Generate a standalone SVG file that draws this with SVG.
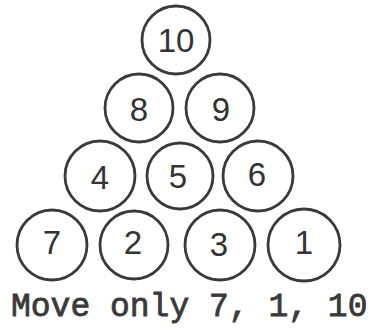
<svg xmlns="http://www.w3.org/2000/svg" width="370" height="329" viewBox="0 0 370 329">
<style>
.b{fill:none;stroke:#3a3a3a;stroke-width:2.8}
.d{font-family:"Liberation Sans",Arial,sans-serif;font-size:33px;fill:#333;text-anchor:middle}
.t{font-family:"Liberation Mono","Courier New",monospace;font-size:33px;fill:#3a3a3a;stroke:#3a3a3a;stroke-width:0.8}
</style>
<rect width="370" height="329" fill="#fff"/>
<g id="n10"><circle class="b" cx="176" cy="40" r="34"/><text class="d" x="176" y="52">10</text></g>
<g id="n8"><circle class="b" cx="139" cy="108" r="34"/><text class="d" x="139" y="121">8</text></g>
<g id="n9"><circle class="b" cx="220" cy="108" r="34"/><text class="d" x="221" y="121">9</text></g>
<g id="n4"><circle class="b" cx="100" cy="176" r="35"/><text class="d" x="100" y="189">4</text></g>
<g id="n5"><circle class="b" cx="180" cy="176" r="33"/><text class="d" x="178" y="188">5</text></g>
<g id="n6"><circle class="b" cx="258" cy="176" r="35"/><text class="d" x="257" y="186">6</text></g>
<g id="n7"><circle class="b" cx="52" cy="245" r="35"/><text class="d" x="52" y="254">7</text></g>
<g id="n2"><circle class="b" cx="134" cy="245" r="34"/><text class="d" x="133" y="254">2</text></g>
<g id="n3"><circle class="b" cx="220" cy="245" r="35"/><text class="d" x="219" y="256">3</text></g>
<g id="n1"><circle class="b" cx="304" cy="245" r="36"/><text class="d" x="304" y="254">1</text></g>
<g id="connectors"/>
<text class="t" x="11" y="316">Move only 7, 1, 10</text>
</svg>
